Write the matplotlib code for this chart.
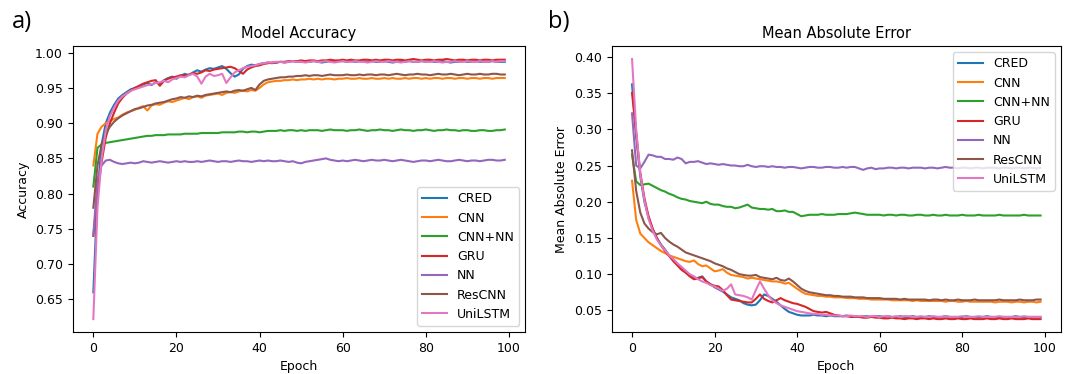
import matplotlib.pyplot as plt
import numpy as np

models = ["CRED", "CNN", "CNN+NN", "GRU", "NN", "ResCNN", "UniLSTM"]
epochs = np.arange(100)

# Model accuracy
acc_cred = [0.660, 0.800, 0.870, 0.900, 0.915, 0.926, 0.935, 0.940, 0.944, 0.948,
            0.950, 0.952, 0.955, 0.957, 0.954, 0.958, 0.956, 0.961, 0.964, 0.966,
            0.963, 0.967, 0.970, 0.968, 0.972, 0.975, 0.973, 0.976, 0.978, 0.977,
            0.979, 0.981, 0.977, 0.971, 0.966, 0.969, 0.977, 0.981, 0.983, 0.982,
            0.984, 0.985, 0.986, 0.985, 0.986, 0.987, 0.986, 0.987, 0.988, 0.987,
            0.987, 0.988, 0.987, 0.988, 0.987, 0.986, 0.987, 0.988, 0.987, 0.988,
            0.988, 0.987, 0.988, 0.987, 0.988, 0.988, 0.987, 0.988, 0.987, 0.987,
            0.988, 0.987, 0.986, 0.987, 0.988, 0.987, 0.988, 0.987, 0.987, 0.988,
            0.987, 0.988, 0.987, 0.987, 0.988, 0.987, 0.986, 0.987, 0.987, 0.988,
            0.987, 0.987, 0.988, 0.987, 0.987, 0.987, 0.988, 0.987, 0.987, 0.987]
acc_cnn = [0.840, 0.885, 0.895, 0.900, 0.903, 0.906, 0.908, 0.912, 0.915, 0.917,
           0.919, 0.922, 0.924, 0.918, 0.925, 0.927, 0.926, 0.929, 0.931, 0.930,
           0.932, 0.934, 0.936, 0.934, 0.937, 0.938, 0.936, 0.939, 0.940, 0.941,
           0.942, 0.940, 0.943, 0.944, 0.943, 0.945, 0.946, 0.945, 0.947, 0.946,
           0.950, 0.955, 0.958, 0.959, 0.960, 0.960, 0.961, 0.961, 0.962, 0.961,
           0.962, 0.962, 0.963, 0.962, 0.963, 0.962, 0.963, 0.963, 0.962, 0.963,
           0.963, 0.964, 0.963, 0.963, 0.964, 0.963, 0.963, 0.964, 0.963, 0.963,
           0.964, 0.963, 0.964, 0.963, 0.963, 0.964, 0.963, 0.964, 0.964, 0.963,
           0.964, 0.963, 0.964, 0.964, 0.963, 0.964, 0.964, 0.963, 0.964, 0.964,
           0.963, 0.964, 0.964, 0.963, 0.964, 0.964, 0.963, 0.964, 0.964, 0.964]
acc_cnnnn = [0.810, 0.865, 0.870, 0.872, 0.873, 0.874, 0.875, 0.876, 0.877, 0.878,
             0.879, 0.880, 0.881, 0.882, 0.882, 0.883, 0.883, 0.883, 0.884, 0.884,
             0.884, 0.884, 0.885, 0.885, 0.885, 0.885, 0.886, 0.886, 0.886, 0.886,
             0.886, 0.887, 0.887, 0.887, 0.887, 0.888, 0.888, 0.887, 0.888, 0.888,
             0.887, 0.888, 0.889, 0.889, 0.889, 0.890, 0.889, 0.890, 0.890, 0.889,
             0.890, 0.889, 0.890, 0.890, 0.890, 0.889, 0.890, 0.891, 0.890, 0.890,
             0.890, 0.889, 0.890, 0.890, 0.891, 0.890, 0.889, 0.890, 0.890, 0.891,
             0.890, 0.890, 0.889, 0.890, 0.891, 0.890, 0.890, 0.889, 0.890, 0.890,
             0.891, 0.890, 0.889, 0.890, 0.890, 0.891, 0.890, 0.890, 0.889, 0.890,
             0.890, 0.889, 0.889, 0.890, 0.890, 0.889, 0.889, 0.890, 0.890, 0.891]
acc_gru = [0.740, 0.800, 0.845, 0.880, 0.900, 0.915, 0.928, 0.936, 0.942, 0.946,
           0.950, 0.953, 0.956, 0.958, 0.960, 0.961, 0.953, 0.960, 0.963, 0.965,
           0.966, 0.968, 0.967, 0.969, 0.971, 0.970, 0.972, 0.975, 0.974, 0.976,
           0.977, 0.978, 0.979, 0.980, 0.978, 0.974, 0.970, 0.976, 0.979, 0.981,
           0.982, 0.984, 0.985, 0.986, 0.986, 0.987, 0.987, 0.988, 0.988, 0.988,
           0.989, 0.988, 0.989, 0.989, 0.988, 0.989, 0.989, 0.990, 0.989, 0.989,
           0.990, 0.989, 0.990, 0.989, 0.989, 0.990, 0.990, 0.989, 0.990, 0.989,
           0.990, 0.990, 0.989, 0.990, 0.990, 0.989, 0.990, 0.991, 0.990, 0.989,
           0.990, 0.990, 0.989, 0.990, 0.990, 0.991, 0.990, 0.989, 0.990, 0.990,
           0.989, 0.990, 0.990, 0.989, 0.990, 0.990, 0.989, 0.990, 0.990, 0.990]
acc_nn = [0.742, 0.820, 0.840, 0.847, 0.848, 0.845, 0.843, 0.842, 0.843, 0.844,
          0.843, 0.844, 0.846, 0.845, 0.844, 0.845, 0.846, 0.845, 0.844, 0.845,
          0.846, 0.845, 0.846, 0.845, 0.845, 0.846, 0.845, 0.846, 0.847, 0.846,
          0.845, 0.846, 0.846, 0.845, 0.846, 0.847, 0.846, 0.846, 0.845, 0.846,
          0.847, 0.846, 0.847, 0.846, 0.846, 0.847, 0.846, 0.845, 0.846, 0.844,
          0.843, 0.845, 0.846, 0.847, 0.848, 0.849, 0.850, 0.848, 0.847, 0.846,
          0.847, 0.846, 0.847, 0.848, 0.847, 0.846, 0.847, 0.848, 0.847, 0.847,
          0.848, 0.847, 0.846, 0.847, 0.848, 0.847, 0.846, 0.845, 0.846, 0.847,
          0.847, 0.846, 0.847, 0.848, 0.847, 0.846, 0.846, 0.847, 0.848, 0.847,
          0.846, 0.847, 0.847, 0.846, 0.847, 0.848, 0.848, 0.847, 0.847, 0.848]
acc_rescnn = [0.780, 0.840, 0.870, 0.885, 0.895, 0.902, 0.907, 0.911, 0.914, 0.917,
              0.920, 0.921, 0.923, 0.925, 0.926, 0.928, 0.929, 0.930, 0.932, 0.934,
              0.935, 0.937, 0.936, 0.938, 0.937, 0.939, 0.938, 0.940, 0.941, 0.942,
              0.943, 0.944, 0.945, 0.944, 0.946, 0.947, 0.946, 0.948, 0.950, 0.947,
              0.955, 0.960, 0.962, 0.963, 0.964, 0.965, 0.965, 0.966, 0.966, 0.967,
              0.967, 0.968, 0.967, 0.968, 0.968, 0.967, 0.968, 0.969, 0.968, 0.968,
              0.968, 0.969, 0.968, 0.968, 0.969, 0.968, 0.969, 0.969, 0.968, 0.969,
              0.969, 0.968, 0.969, 0.970, 0.969, 0.968, 0.969, 0.969, 0.970, 0.969,
              0.969, 0.968, 0.969, 0.970, 0.969, 0.969, 0.970, 0.969, 0.968, 0.969,
              0.970, 0.969, 0.969, 0.970, 0.969, 0.969, 0.970, 0.970, 0.969, 0.969]
acc_unilstm = [0.622, 0.780, 0.850, 0.890, 0.910, 0.922, 0.932, 0.938, 0.942, 0.946,
               0.948, 0.950, 0.952, 0.954, 0.955, 0.957, 0.958, 0.960, 0.958, 0.962,
               0.964, 0.966, 0.965, 0.968, 0.970, 0.966, 0.956, 0.966, 0.970, 0.967,
               0.968, 0.970, 0.957, 0.965, 0.972, 0.975, 0.978, 0.980, 0.981, 0.982,
               0.984, 0.985, 0.986, 0.986, 0.987, 0.987, 0.986, 0.987, 0.988, 0.987,
               0.987, 0.986, 0.987, 0.988, 0.987, 0.987, 0.988, 0.987, 0.986, 0.987,
               0.988, 0.987, 0.987, 0.988, 0.987, 0.987, 0.986, 0.987, 0.988, 0.987,
               0.987, 0.988, 0.987, 0.987, 0.986, 0.987, 0.988, 0.987, 0.987, 0.988,
               0.987, 0.987, 0.988, 0.987, 0.986, 0.987, 0.987, 0.988, 0.987, 0.987,
               0.988, 0.987, 0.987, 0.988, 0.987, 0.987, 0.988, 0.987, 0.988, 0.988]

# Mean absolute error
mae_cred = [0.362, 0.290, 0.235, 0.200, 0.178, 0.162, 0.150, 0.141, 0.134, 0.126,
            0.120, 0.114, 0.108, 0.103, 0.098, 0.094, 0.095, 0.097, 0.090, 0.086,
            0.082, 0.079, 0.076, 0.072, 0.068, 0.066, 0.064, 0.060, 0.058, 0.057,
            0.058, 0.064, 0.072, 0.070, 0.066, 0.062, 0.057, 0.052, 0.048, 0.046,
            0.044, 0.043, 0.043, 0.043, 0.044, 0.043, 0.043, 0.042, 0.043, 0.042,
            0.042, 0.042, 0.043, 0.042, 0.042, 0.041, 0.042, 0.042, 0.041, 0.042,
            0.042, 0.041, 0.042, 0.041, 0.041, 0.042, 0.041, 0.041, 0.042, 0.041,
            0.041, 0.041, 0.042, 0.041, 0.041, 0.041, 0.042, 0.041, 0.041, 0.041,
            0.041, 0.042, 0.041, 0.041, 0.041, 0.041, 0.042, 0.041, 0.041, 0.041,
            0.041, 0.041, 0.041, 0.042, 0.041, 0.041, 0.041, 0.041, 0.041, 0.041]
mae_cnn = [0.229, 0.175, 0.156, 0.150, 0.144, 0.140, 0.136, 0.132, 0.129, 0.126,
           0.124, 0.122, 0.120, 0.118, 0.117, 0.119, 0.114, 0.111, 0.112, 0.108,
           0.104, 0.105, 0.107, 0.102, 0.099, 0.098, 0.097, 0.096, 0.094, 0.095,
           0.094, 0.093, 0.092, 0.091, 0.090, 0.090, 0.089, 0.087, 0.088, 0.084,
           0.080, 0.076, 0.073, 0.072, 0.071, 0.070, 0.070, 0.069, 0.069, 0.068,
           0.068, 0.068, 0.067, 0.067, 0.067, 0.066, 0.066, 0.066, 0.065, 0.065,
           0.065, 0.065, 0.065, 0.064, 0.064, 0.064, 0.064, 0.064, 0.063, 0.064,
           0.063, 0.063, 0.063, 0.063, 0.063, 0.063, 0.062, 0.063, 0.063, 0.062,
           0.062, 0.063, 0.062, 0.062, 0.062, 0.062, 0.062, 0.062, 0.061, 0.062,
           0.062, 0.062, 0.061, 0.062, 0.062, 0.061, 0.062, 0.062, 0.061, 0.062]
mae_cnnnn = [0.265, 0.228, 0.223, 0.224, 0.225, 0.222, 0.219, 0.216, 0.214, 0.211,
             0.209, 0.206, 0.204, 0.203, 0.201, 0.200, 0.199, 0.198, 0.200, 0.197,
             0.196, 0.196, 0.194, 0.193, 0.193, 0.191, 0.192, 0.194, 0.196, 0.192,
             0.191, 0.190, 0.190, 0.189, 0.190, 0.187, 0.187, 0.188, 0.186, 0.186,
             0.183, 0.180, 0.181, 0.182, 0.182, 0.182, 0.183, 0.182, 0.182, 0.182,
             0.183, 0.183, 0.183, 0.184, 0.185, 0.184, 0.183, 0.182, 0.182, 0.182,
             0.182, 0.181, 0.182, 0.182, 0.181, 0.182, 0.182, 0.181, 0.181, 0.182,
             0.182, 0.181, 0.181, 0.182, 0.181, 0.181, 0.182, 0.181, 0.181, 0.181,
             0.182, 0.181, 0.181, 0.181, 0.182, 0.181, 0.181, 0.181, 0.181, 0.182,
             0.181, 0.181, 0.181, 0.181, 0.181, 0.182, 0.181, 0.181, 0.181, 0.181]
mae_gru = [0.350, 0.295, 0.240, 0.205, 0.180, 0.163, 0.150, 0.140, 0.132, 0.125,
           0.118, 0.112, 0.106, 0.102, 0.097, 0.093, 0.094, 0.096, 0.090, 0.086,
           0.084, 0.083, 0.078, 0.071, 0.065, 0.064, 0.063, 0.062, 0.061, 0.061,
           0.066, 0.072, 0.066, 0.063, 0.061, 0.064, 0.067, 0.064, 0.062, 0.060,
           0.059, 0.057, 0.055, 0.052, 0.049, 0.048, 0.047, 0.048, 0.046, 0.044,
           0.043, 0.042, 0.042, 0.041, 0.041, 0.041, 0.040, 0.040, 0.041, 0.040,
           0.040, 0.039, 0.039, 0.040, 0.039, 0.039, 0.038, 0.039, 0.039, 0.038,
           0.039, 0.039, 0.038, 0.039, 0.038, 0.038, 0.039, 0.038, 0.038, 0.039,
           0.038, 0.038, 0.039, 0.038, 0.038, 0.038, 0.039, 0.038, 0.038, 0.039,
           0.038, 0.038, 0.039, 0.038, 0.038, 0.038, 0.039, 0.038, 0.038, 0.038]
mae_nn = [0.322, 0.250, 0.246, 0.255, 0.265, 0.264, 0.262, 0.262, 0.259, 0.259,
          0.258, 0.261, 0.259, 0.253, 0.255, 0.255, 0.256, 0.254, 0.252, 0.253,
          0.252, 0.251, 0.252, 0.251, 0.250, 0.250, 0.249, 0.249, 0.251, 0.249,
          0.248, 0.249, 0.249, 0.248, 0.249, 0.248, 0.248, 0.247, 0.248, 0.248,
          0.247, 0.246, 0.247, 0.248, 0.248, 0.247, 0.247, 0.248, 0.248, 0.247,
          0.247, 0.248, 0.247, 0.248, 0.248, 0.246, 0.244, 0.246, 0.247, 0.245,
          0.246, 0.246, 0.247, 0.247, 0.246, 0.247, 0.247, 0.246, 0.247, 0.247,
          0.247, 0.246, 0.247, 0.247, 0.246, 0.247, 0.248, 0.247, 0.247, 0.246,
          0.247, 0.247, 0.246, 0.247, 0.247, 0.246, 0.247, 0.247, 0.247, 0.246,
          0.247, 0.247, 0.246, 0.247, 0.247, 0.246, 0.247, 0.247, 0.246, 0.247]
mae_rescnn = [0.271, 0.215, 0.185, 0.170, 0.163, 0.158, 0.155, 0.157, 0.150, 0.145,
              0.141, 0.138, 0.134, 0.130, 0.128, 0.126, 0.124, 0.122, 0.120, 0.118,
              0.115, 0.113, 0.111, 0.108, 0.106, 0.103, 0.100, 0.099, 0.098, 0.098,
              0.099, 0.096, 0.095, 0.094, 0.093, 0.095, 0.092, 0.091, 0.094, 0.090,
              0.085, 0.080, 0.077, 0.075, 0.074, 0.073, 0.072, 0.071, 0.071, 0.070,
              0.070, 0.069, 0.069, 0.069, 0.068, 0.068, 0.068, 0.067, 0.067, 0.067,
              0.067, 0.066, 0.066, 0.066, 0.066, 0.065, 0.066, 0.065, 0.065, 0.065,
              0.065, 0.065, 0.064, 0.065, 0.065, 0.064, 0.065, 0.064, 0.064, 0.065,
              0.064, 0.064, 0.064, 0.065, 0.064, 0.064, 0.064, 0.064, 0.064, 0.065,
              0.064, 0.064, 0.064, 0.064, 0.065, 0.064, 0.064, 0.064, 0.065, 0.065]
mae_unilstm = [0.397, 0.300, 0.238, 0.202, 0.176, 0.160, 0.148, 0.140, 0.133, 0.126,
               0.121, 0.115, 0.110, 0.105, 0.100, 0.097, 0.093, 0.090, 0.088, 0.085,
               0.083, 0.080, 0.077, 0.080, 0.086, 0.072, 0.071, 0.070, 0.068, 0.065,
               0.078, 0.090, 0.080, 0.071, 0.064, 0.060, 0.057, 0.055, 0.053, 0.051,
               0.049, 0.048, 0.047, 0.046, 0.045, 0.045, 0.044, 0.044, 0.043, 0.043,
               0.043, 0.042, 0.042, 0.043, 0.042, 0.042, 0.042, 0.041, 0.042, 0.042,
               0.041, 0.042, 0.042, 0.041, 0.042, 0.041, 0.042, 0.042, 0.041, 0.041,
               0.042, 0.041, 0.041, 0.042, 0.041, 0.041, 0.042, 0.041, 0.041, 0.041,
               0.042, 0.041, 0.041, 0.041, 0.042, 0.041, 0.041, 0.041, 0.041, 0.042,
               0.041, 0.041, 0.041, 0.041, 0.041, 0.042, 0.041, 0.041, 0.041, 0.041]

acc_all = [acc_cred, acc_cnn, acc_cnnnn, acc_gru, acc_nn, acc_rescnn, acc_unilstm]
mae_all = [mae_cred, mae_cnn, mae_cnnnn, mae_gru, mae_nn, mae_rescnn, mae_unilstm]

fig = plt.figure(figsize=(10.7, 3.74), dpi=100)
ax1 = fig.add_axes([0.068, 0.112, 0.423, 0.765])
ax2 = fig.add_axes([0.5716, 0.112, 0.4200, 0.765])

for name, vals in zip(models, acc_all):
    ax1.plot(epochs, vals, label=name, lw=1.5)
ax1.set_title("Model Accuracy", fontsize=10.5)
ax1.set_xlabel("Epoch", fontsize=9)
ax1.set_ylabel("Accuracy", fontsize=9)
ax1.tick_params(labelsize=9)
ax1.legend(loc="lower right", fontsize=9)

for name, vals in zip(models, mae_all):
    ax2.plot(epochs, vals, label=name, lw=1.5)
ax2.set_title("Mean Absolute Error", fontsize=10.5)
ax2.set_xlabel("Epoch", fontsize=9)
ax2.set_ylabel("Mean Absolute Error", fontsize=9)
ax2.tick_params(labelsize=9)
ax2.legend(loc="upper right", fontsize=9)

fig.text(0.011, 0.94, "a)", fontsize=17, family="Open Sans", va="center")
fig.text(0.512, 0.94, "b)", fontsize=17, family="Open Sans", va="center")

plt.savefig("out.png")
